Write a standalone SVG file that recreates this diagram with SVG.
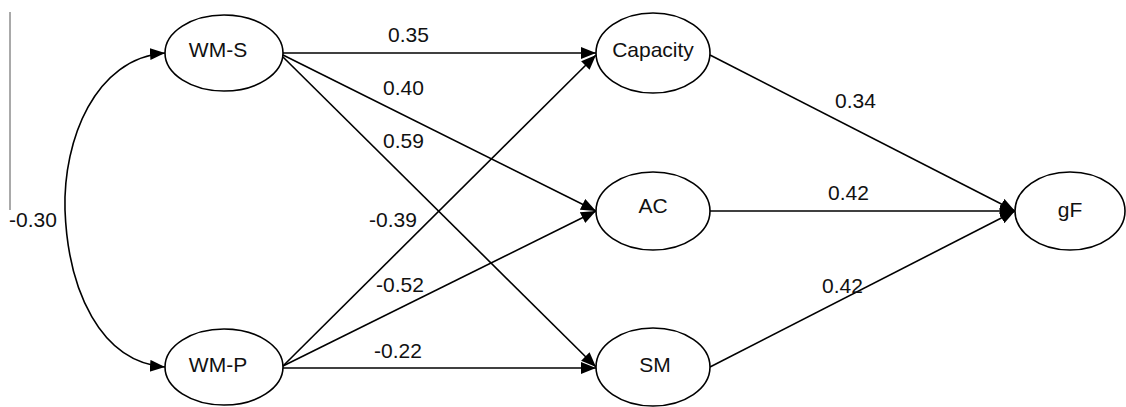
<svg xmlns="http://www.w3.org/2000/svg" width="1126" height="407" viewBox="0 0 1126 407">
<style>
.node ellipse{fill:#fff;stroke:#000;stroke-width:1.6}
.node text{font-family:"Liberation Sans",Arial,sans-serif;font-size:21px;text-anchor:middle;fill:#111}
.edges line,.edges path{stroke:#000;stroke-width:1.6;fill:none}
.lbl{font-family:"Liberation Sans",Arial,sans-serif;font-size:21px;fill:#111}
</style>
<defs>
<marker id="ah" markerUnits="userSpaceOnUse" markerWidth="16" markerHeight="14" refX="15" refY="6" orient="auto">
<path d="M0,0 L15,6 L0,12 z" fill="#000"/>
</marker>
</defs>
<line x1="10" y1="12" x2="10" y2="210" stroke="#555" stroke-width="1"/>
<g class="edges">
<path d="M65,210 C63,140 95,58 165,53" marker-end="url(#ah)"/>
<path d="M65,210 C68,290 100,362 165,367" marker-end="url(#ah)"/>
<line x1="283" y1="53" x2="596" y2="53" marker-end="url(#ah)"/>
<line x1="283" y1="55" x2="596" y2="211" marker-end="url(#ah)"/>
<line x1="283" y1="57" x2="596" y2="367" marker-end="url(#ah)"/>
<line x1="283" y1="366" x2="596" y2="55" marker-end="url(#ah)"/>
<line x1="283" y1="366" x2="596" y2="211" marker-end="url(#ah)"/>
<line x1="283" y1="368" x2="596" y2="368" marker-end="url(#ah)"/>
<line x1="710" y1="55" x2="1015" y2="211" marker-end="url(#ah)"/>
<line x1="710" y1="211" x2="1015" y2="211" marker-end="url(#ah)"/>
<line x1="710" y1="367" x2="1015" y2="211" marker-end="url(#ah)"/>
</g>
<g id="labels">
<text class="lbl" x="9" y="227">-0.30</text>
<text class="lbl" x="388" y="42">0.35</text>
<text class="lbl" x="383" y="95">0.40</text>
<text class="lbl" x="383" y="148">0.59</text>
<text class="lbl" x="369" y="227">-0.39</text>
<text class="lbl" x="376" y="292">-0.52</text>
<text class="lbl" x="374" y="358">-0.22</text>
<text class="lbl" x="835" y="108">0.34</text>
<text class="lbl" x="828" y="200">0.42</text>
<text class="lbl" x="822" y="293">0.42</text>
</g>
<g id="WM-S" class="node"><ellipse cx="224" cy="53" rx="59" ry="38"/><text x="218" y="57">WM-S</text></g>
<g id="WM-P" class="node"><ellipse cx="224" cy="367" rx="59" ry="38"/><text x="218" y="372">WM-P</text></g>
<g id="Capacity" class="node"><ellipse cx="653" cy="53" rx="57" ry="40"/><text x="653" y="57">Capacity</text></g>
<g id="AC" class="node"><ellipse cx="653" cy="211" rx="57" ry="39"/><text x="653" y="213">AC</text></g>
<g id="SM" class="node"><ellipse cx="653" cy="367" rx="57" ry="39"/><text x="655" y="372">SM</text></g>
<g id="gF" class="node"><ellipse cx="1070" cy="211" rx="55" ry="39"/><text x="1070" y="217">gF</text></g>
</svg>
